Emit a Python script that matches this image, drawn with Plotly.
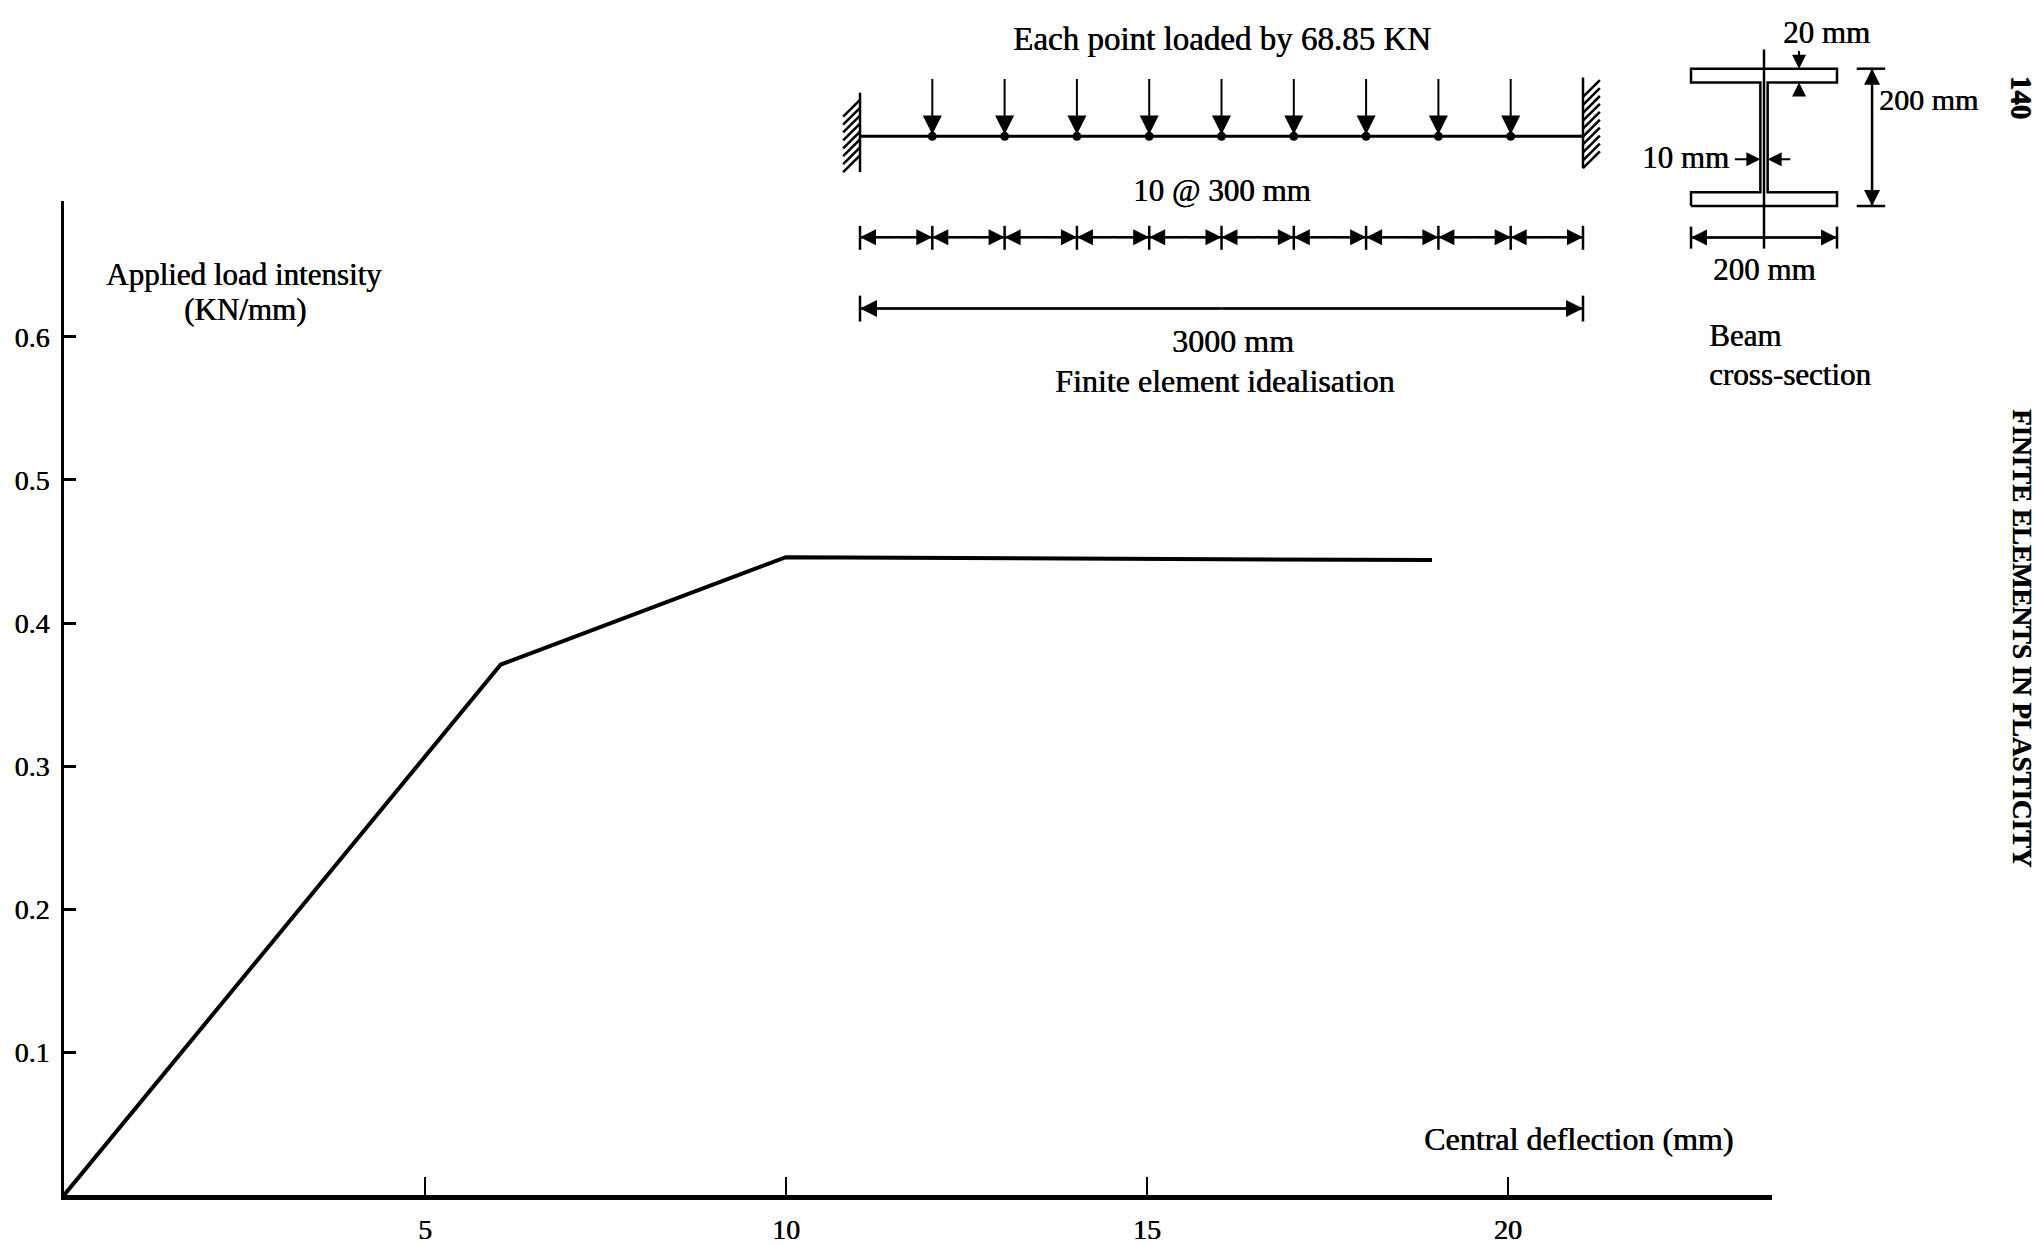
import numpy as np
import plotly.graph_objects as go

# load / central deflection curve
deflection = [0, 6.05, 10.0, 18.95]
load_intensity = [0, 0.371, 0.446, 0.444]

x_tickvals = [5, 10, 15, 20]
y_tickvals = [0.1, 0.2, 0.3, 0.4, 0.5, 0.6]
y_ticktext = ['0.1', '0.2', '0.3', '0.4', '0.5', '0.6']

# finite element idealisation of the beam (mm)
span = 3000
node_x = [0, 300, 600, 900, 1200, 1500, 1800, 2100, 2400, 2700, 3000]

# beam cross-section (mm)
flange_b = 200
depth = 200
flange_t = 20
web_t = 10

# page is 2043x1245, the html body adds an 8px margin round the figure
OFF = 8
KY = 0.987          # vertical correction found by comparing with the screenshot
W, H = 2043 - OFF, 1245 - OFF
FONT = 'Liberation Serif'
BLACK = 'black'
SHADOW = '0.6px 0.4px 0px black'


def px(x):
    # page pixel -> paper x
    return (x - OFF) / W


def py(y):
    # page pixel -> paper y
    return 1 - (y - OFF) / KY / H


fig = go.Figure()

# ---- main load-deflection plot
fig.add_trace(go.Scatter(x=deflection, y=load_intensity, mode='lines',
                         line=dict(color=BLACK, width=4), xaxis='x', yaxis='y'))

# ---- beam diagram (axes x2/y2, in mm)
ln = dict(color=BLACK, width=3)
fig.add_trace(go.Scatter(x=[0, span], y=[0, 0], mode='lines', line=ln, xaxis='x2', yaxis='y2'))
fig.add_trace(go.Scatter(x=node_x[1:-1], y=[0] * (len(node_x) - 2), mode='markers',
                         marker=dict(color=BLACK, size=9), xaxis='x2', yaxis='y2'))

# fixed supports with hatching
wall_l = (-149, 182)
wall_r = (-133, 245)
h = 70
hx, hy = [0, 0, None, span, span, None], [wall_l[0], wall_l[1], None, wall_r[0], wall_r[1], None]
for y0 in np.arange(wall_l[0], wall_l[1] - h + 1, 33):
    hx += [-h, 0, None]
    hy += [y0, y0 + h, None]
for y0 in np.arange(wall_r[0], wall_r[1] - h + 1, 33):
    hx += [span, span + h, None]
    hy += [y0, y0 + h, None]
fig.add_trace(go.Scatter(x=hx, y=hy, mode='lines', line=dict(color=BLACK, width=2.5),
                         xaxis='x2', yaxis='y2'))

# dimension lines
dim1_y, dim2_y = -421, -718
dx, dy = [0, span, None, 0, span, None], [dim1_y, dim1_y, None, dim2_y, dim2_y, None]
for nx in node_x:
    dx += [nx, nx, None]
    dy += [dim1_y + 48, dim1_y - 52, None]
for nx in [0, span]:
    dx += [nx, nx, None]
    dy += [dim2_y + 54, dim2_y - 54, None]
fig.add_trace(go.Scatter(x=dx, y=dy, mode='lines', line=dict(color=BLACK, width=2.5),
                         xaxis='x2', yaxis='y2'))

# ---- cross-section (axes x3/y3, in mm)
b2, tw2 = flange_b / 2, web_t / 2
sec_x = [-b2, b2, b2, tw2, tw2, b2, b2, -b2, -b2, -tw2, -tw2, -b2, -b2]
sec_y = [0, 0, flange_t, flange_t, depth - flange_t, depth - flange_t, depth, depth,
         depth - flange_t, depth - flange_t, flange_t, flange_t, 0]
fig.add_trace(go.Scatter(x=sec_x, y=sec_y, mode='lines', line=dict(color=BLACK, width=2.5),
                         xaxis='x3', yaxis='y3'))
cx = [0, 0, None, 127, 166, None, 127, 166, None, 148, 148, None,
      -b2, b2, None, -b2, -b2, None, b2, b2, None]
cy = [228, -62, None, 0, 0, None, depth, depth, None, 0, depth, None,
      -46, -46, None, -30, -62, None, -30, -62, None]
fig.add_trace(go.Scatter(x=cx, y=cy, mode='lines', line=dict(color=BLACK, width=2.5),
                         xaxis='x3', yaxis='y3'))

annotations = []


def arrow(x, y, ax, ay, ref, width=2, size=1.3):
    annotations.append(dict(x=x, y=y, ax=ax, ay=ay, xref='x' + ref, yref='y' + ref,
                            axref='x' + ref, ayref='y' + ref, text='', showarrow=True,
                            arrowhead=2, arrowsize=size, arrowwidth=width, arrowcolor=BLACK,
                            standoff=0, startstandoff=0))


def label(text, x, y, xref, yref, size=32, xanchor='center', angle=0):
    annotations.append(dict(text=text, x=x, y=y, xref=xref, yref=yref, showarrow=False,
                            xanchor=xanchor, yanchor='middle', textangle=angle,
                            font=dict(family=FONT, size=size, color=BLACK, shadow=SHADOW)))


# point loads
for nx in node_x[1:-1]:
    arrow(nx, 8, nx, 245, '2', size=1.9)
# element dimension arrows
for a, b in zip(node_x[:-1], node_x[1:]):
    m = (a + b) / 2
    arrow(a, dim1_y, m, dim1_y, '2', size=1.6)
    arrow(b, dim1_y, m, dim1_y, '2', size=1.6)
arrow(0, dim2_y, span / 2, dim2_y, '2', size=1.7)
arrow(span, dim2_y, span / 2, dim2_y, '2', size=1.7)

# section arrows
arrow(48, depth, 48, 228, '3', size=1.4)
arrow(48, depth - flange_t, 48, 158, '3', size=1.4)
arrow(148, 0, 148, 100, '3', size=1.6)
arrow(148, depth, 148, 100, '3', size=1.6)
arrow(-tw2, 68, -42, 68, '3', size=1.4)
arrow(tw2, 68, 38, 68, '3', size=1.4)
arrow(-b2, -46, 0, -46, '3', size=1.6)
arrow(b2, -46, 0, -46, '3', size=1.6)

# texts
label('Each point loaded by 68.85 KN', 1503, 407, 'x2', 'y2', size=33)
label('10 @ 300 mm', 1500, -226, 'x2', 'y2', size=31)
label('3000 mm', 1546, -853, 'x2', 'y2')
label('Finite element idealisation', 1514, -1021, 'x2', 'y2')
label('20 mm', 86, 253, 'x3', 'y3', size=31)
label('200 mm', 225, 155, 'x3', 'y3', size=30)
label('10 mm', -107, 70, 'x3', 'y3', size=31)
label('200 mm', 0, -93, 'x3', 'y3', size=31)
label('Beam', -78, -189, 'x3', 'y3', size=31, xanchor='left')
label('cross-section', -78, -246, 'x3', 'y3', size=31, xanchor='left')
label('Applied load intensity', 2.49, 0.644, 'x', 'y', size=31)
label('(KN/mm)', 2.51, 0.619, 'x', 'y', size=31)
label('Central deflection (mm)', 20.98, 0.039, 'x', 'y')
label('<b>140</b>', px(2022), py(98), 'paper', 'paper', size=29, angle=90)
label('<b>FINITE ELEMENTS IN PLASTICITY</b>', px(2022), py(641), 'paper', 'paper',
      size=27, angle=90)

hidden = dict(visible=False, showgrid=False, zeroline=False, fixedrange=True)
tickfont = dict(family=FONT, size=28, color=BLACK, shadow=SHADOW)

# beam and section axes share the band from the page top down to y=420
band = [py(420), py(OFF)]

fig.update_layout(
    width=W, height=H,
    margin=dict(l=0, r=0, t=0, b=0, pad=0),
    paper_bgcolor='white', plot_bgcolor='rgba(0,0,0,0)',
    showlegend=False,
    font=dict(family=FONT, size=30, color=BLACK),
    xaxis=dict(domain=[px(64), px(1772)], range=[0, 23.66], anchor='y',
               tickvals=x_tickvals, ticks='inside', ticklen=18, tickwidth=2, tickcolor=BLACK,
               showline=True, linewidth=5, linecolor=BLACK, showgrid=False, zeroline=False,
               tickfont=tickfont, ticklabelstandoff=5),
    yaxis=dict(domain=[py(1201), py(202)], range=[0, 0.695], anchor='x',
               tickvals=y_tickvals, ticktext=y_ticktext, ticks='inside', ticklen=12, tickwidth=3,
               tickcolor=BLACK, showline=True, linewidth=3, linecolor=BLACK, showgrid=False,
               zeroline=False, tickfont=tickfont, ticklabelstandoff=6),
    xaxis2=dict(domain=[px(800), px(1650)], range=[-249, 3278], anchor='y2', **hidden),
    yaxis2=dict(domain=band, range=[-1174, 568 - OFF / 0.241], anchor='x2', **hidden),
    xaxis3=dict(domain=[px(1600), px(2000)], range=[-224.7, 323.3], anchor='y3', **hidden),
    yaxis3=dict(domain=band, range=[-308.7, 300 - OFF / 0.69], anchor='x3', **hidden),
    annotations=annotations,
)

fig.write_html('out.html')
